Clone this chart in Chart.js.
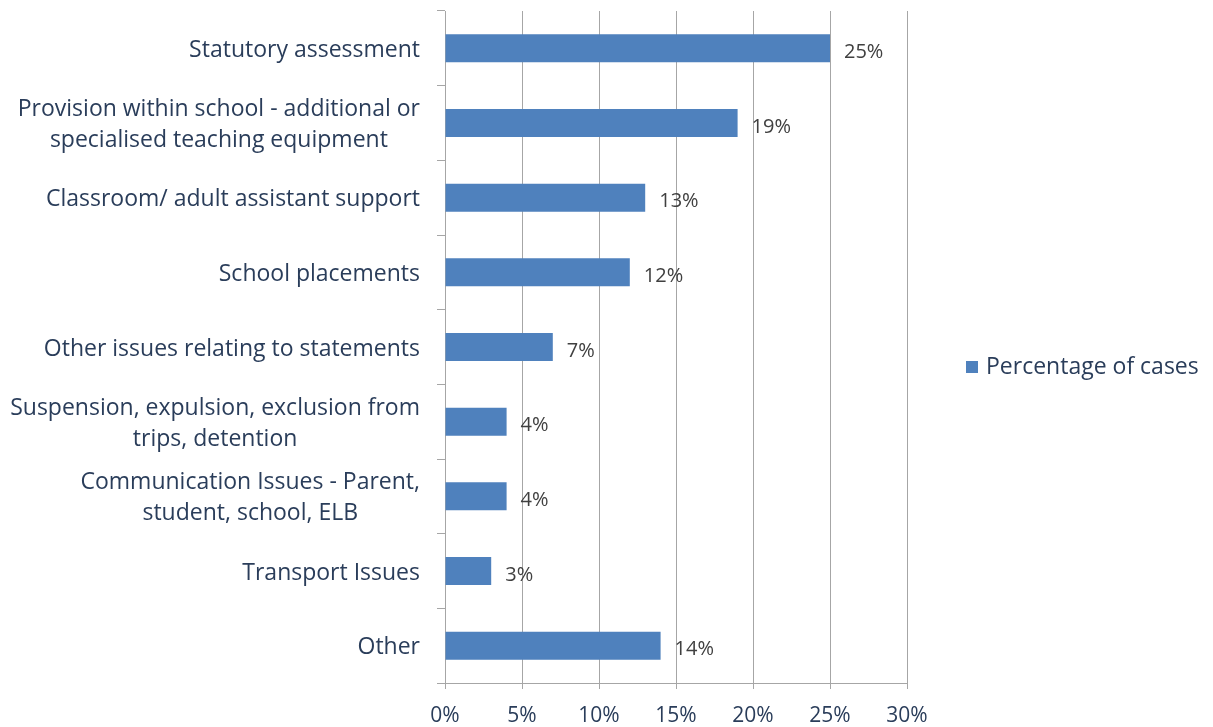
<!DOCTYPE html>
<html>
<head>
<meta charset="utf-8">
<script src="https://cdn.jsdelivr.net/npm/chart.js@4/dist/chart.umd.min.js"></script>
<style>
  html, body { margin: 0; padding: 0; background: #fff; }
  #wrap { width: 1213px; height: 727px; }
</style>
</head>
<body>
<div id="wrap"><canvas id="bar-chart"></canvas></div>
<script>
const categories = [
    ['Statutory assessment'],
    ['Provision within school - additional or', 'specialised teaching equipment'],
    ['Classroom/ adult assistant support'],
    ['School placements'],
    ['Other issues relating to statements'],
    ['Suspension, expulsion, exclusion from', 'trips, detention'],
    ['Communication Issues - Parent,', 'student, school, ELB'],
    ['Transport Issues'],
    ['Other']
];
const percentages = [25, 19, 13, 12, 7, 4, 4, 3, 14];
const xTicks = [0, 5, 10, 15, 20, 25, 30];
const seriesName = 'Percentage of cases';

const FONT = '"Open Sans", Lato, sans-serif';
const TEXT = '#2a3d5a';
const GRID = '#a6a6a6';
const BAR = '#4f81bd';

// labels on the y axis: block right aligned, lines centred inside it
const categoryLabels = {
    id: 'categoryLabels',
    afterDraw(chart) {
        const ctx = chart.ctx;
        const y = chart.scales.y;
        const right = chart.chartArea.left - 25;
        ctx.save();
        ctx.font = '23px ' + FONT;
        ctx.fillStyle = TEXT;
        ctx.textAlign = 'center';
        ctx.textBaseline = 'middle';
        categories.forEach((lines, i) => {
            const cy = y.getPixelForValue(i) + 2;
            const w = Math.max(...lines.map(l => ctx.measureText(l).width));
            const lh = 31;
            lines.forEach((l, j) => {
                ctx.fillText(l, right - w / 2, cy + (j - (lines.length - 1) / 2) * lh);
            });
        });
        ctx.restore();
    }
};

// value labels right of each bar
const valueLabels = {
    id: 'valueLabels',
    afterDatasetsDraw(chart) {
        const ctx = chart.ctx;
        const meta = chart.getDatasetMeta(0);
        ctx.save();
        ctx.font = '20px ' + FONT;
        ctx.fillStyle = '#404040';
        ctx.textAlign = 'left';
        ctx.textBaseline = 'middle';
        meta.data.forEach((bar, i) => {
            ctx.fillText(percentages[i] + '%', bar.x + 14, bar.y + 4);
        });
        ctx.restore();
    }
};

// legend drawn to the right of the plot
const sideLegend = {
    id: 'sideLegend',
    afterDraw(chart) {
        const ctx = chart.ctx;
        const midY = 367;
        ctx.save();
        ctx.fillStyle = BAR;
        ctx.fillRect(966, midY - 6, 12, 12);
        ctx.font = '23px ' + FONT;
        ctx.fillStyle = TEXT;
        ctx.textAlign = 'left';
        ctx.textBaseline = 'middle';
        ctx.fillText(seriesName, 986, midY);
        ctx.restore();
    }
};

new Chart(document.getElementById('bar-chart'), {
    type: 'bar',
    data: {
        labels: categories.map(c => c.join(' ')),
        datasets: [{
            label: seriesName,
            data: percentages,
            backgroundColor: BAR,
            borderWidth: 0,
            categoryPercentage: 1,
            barPercentage: 0.375
        }]
    },
    options: {
        indexAxis: 'y',
        responsive: true,
        maintainAspectRatio: false,
        animation: false,
        layout: { padding: { left: 0, right: 306, top: 11, bottom: 0 } },
        scales: {
            x: {
                min: 0,
                max: 30,
                afterBuildTicks: s => { s.ticks = xTicks.map(v => ({ value: v })); },
                grid: { color: GRID, lineWidth: 1, tickLength: 6 },
                border: { color: GRID, width: 1 },
                ticks: {
                    font: { family: FONT, size: 21 },
                    color: TEXT,
                    padding: 14,
                    maxRotation: 0,
                    callback: v => v + '%'
                },
                afterFit: s => { s.height = 44; }
            },
            y: {
                grid: { offset: true, drawOnChartArea: false, color: GRID, tickLength: 8 },
                border: { color: GRID, width: 1 },
                ticks: { display: false },
                afterFit: s => { s.width = 445; }
            }
        },
        plugins: {
            legend: { display: false },
            tooltip: { enabled: false }
        }
    },
    plugins: [categoryLabels, valueLabels, sideLegend]
});
</script>
</body>
</html>
